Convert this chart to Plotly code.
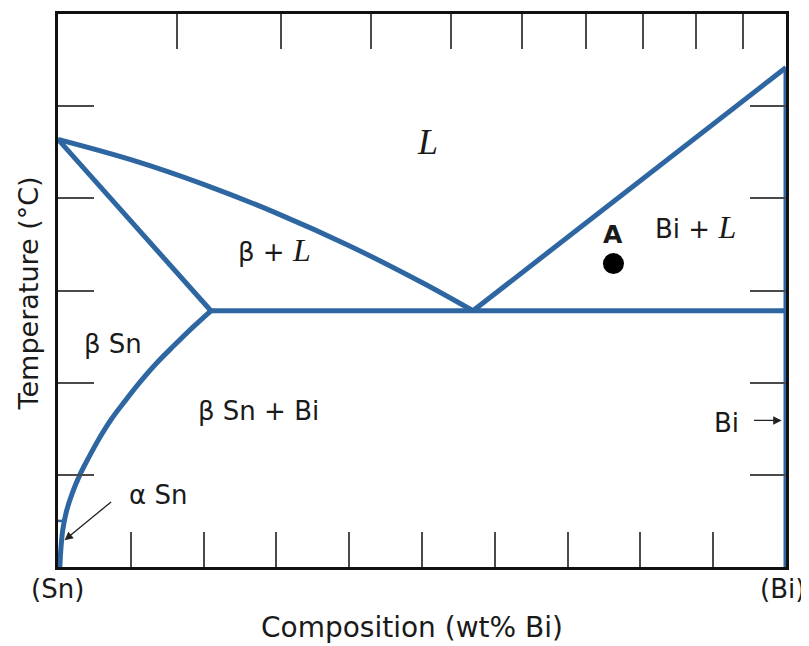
import plotly.graph_objects as go

# ---------------- data (wt% Bi, temperature °C) ----------------
liquidus_sn_x = [0, 10, 20, 30, 40, 50, 57]
liquidus_sn_y = [232, 221, 207.6, 192, 174.3, 154.3, 139]

solidus_sn_x = [0, 21]
solidus_sn_y = [232, 139]

solvus_x = [21, 18.5, 15.9, 13.4, 11.2, 9.2, 7.3, 5.7, 4.3, 3.0, 1.95, 1.15, 0.65, 0.4, 0.25]
solvus_y = [139, 130, 120, 110, 100, 90, 80, 70, 60, 50, 40, 30, 20, 10, 0]

alpha_beta_x = [0, 1.0]
alpha_beta_y = [25, 25]

eutectic_x = [21, 100]
eutectic_y = [139, 139]

liquidus_bi_x = [57, 100]
liquidus_bi_y = [139, 271]

bi_line_x = [100, 100]
bi_line_y = [0, 271]

point_a_x = [76.3]
point_a_y = [164.6]

x_ticks_bottom = [10, 20, 30, 40, 50, 60, 70, 80, 90]
x_ticks_top = [16.4, 30.6, 43.0, 54.0, 63.8, 72.5, 80.4, 87.6, 94.1]   # at% Bi marks
y_ticks = [50, 100, 150, 200, 250]

BLUE = "#2e66a2"
TXT = "#1a1a1a"
SANS = "DejaVu Sans"
SERIF = "Liberation Serif"

fig = go.Figure()

for xs, ys, shp in [
    (liquidus_sn_x, liquidus_sn_y, "spline"),
    (solidus_sn_x, solidus_sn_y, "linear"),
    (solvus_x, solvus_y, "spline"),
    (eutectic_x, eutectic_y, "linear"),
    (liquidus_bi_x, liquidus_bi_y, "linear"),
    (bi_line_x, bi_line_y, "linear"),
]:
    fig.add_trace(go.Scatter(x=xs, y=ys, mode="lines",
                             line=dict(color=BLUE, width=5, shape=shp, smoothing=1.0),
                             showlegend=False, hoverinfo="skip"))

fig.add_trace(go.Scatter(x=alpha_beta_x, y=alpha_beta_y, mode="lines",
                         line=dict(color=BLUE, width=2.5), showlegend=False, hoverinfo="skip"))

fig.add_trace(go.Scatter(x=point_a_x, y=point_a_y, mode="markers",
                         marker=dict(color="black", size=21), showlegend=False, hoverinfo="skip"))

# invisible trace on the top axis so the overlay axis is drawn
fig.add_trace(go.Scatter(x=[0], y=[0], xaxis="x2", mode="markers",
                         marker=dict(opacity=0), showlegend=False, hoverinfo="skip"))

axis_common = dict(showgrid=False, zeroline=False, showticklabels=False,
                   ticks="inside", tickcolor="#4a4a4a", tickwidth=1.6)

fig.update_layout(
    width=801, height=638,
    margin=dict(l=50, r=23, t=3, b=79),
    paper_bgcolor="white", plot_bgcolor="white",
    xaxis=dict(range=[0, 100], tickvals=x_ticks_bottom, ticklen=35,
               showline=True, linecolor="#111", linewidth=2.5, mirror=True,
               **axis_common),
    xaxis2=dict(range=[0, 100], overlaying="x", side="top", tickvals=x_ticks_top,
                ticklen=35, showline=False, **axis_common),
    yaxis=dict(range=[0, 300], tickvals=y_ticks, ticklen=36,
               showline=True, linecolor="#111", linewidth=2.5, mirror="ticks",
               **axis_common),
)

def label(x, y, text, size=26, ref="data", **kw):
    d = dict(x=x, y=y, text=text, showarrow=False, xanchor="center", yanchor="middle",
             font=dict(family=SANS, size=size, color=TXT))
    if ref == "paper":
        d.update(xref="paper", yref="paper")
    else:
        d.update(xref="x", yref="y")
    d.update(kw)
    fig.add_annotation(**d)

Lspan = lambda s: f'<span style="font-family:{SERIF};font-size:{s}px"><i>L</i></span>'

label(50.8, 230.4, Lspan(36))
label(29.8, 172, "β + " + Lspan(32))
label(87.5, 184.6, "Bi + " + Lspan(32))
label(7.6, 121, "β Sn")
label(27.5, 84.7, "β Sn + Bi")
label(13.7, 38.9, "α Sn")
label(91.8, 78.3, "Bi")
label(76.3, 180.5, "<b>A</b>", size=25)

# arrows
fig.add_annotation(x=0.9, y=14.5, ax=7.5, ay=36, xref="x", yref="y", axref="x", ayref="y",
                   text="", showarrow=True, arrowhead=2, arrowsize=1.3, arrowwidth=1.3,
                   arrowcolor="#222")
fig.add_annotation(x=99.4, y=79.5, ax=95.4, ay=79.5, xref="x", yref="y", axref="x", ayref="y",
                   text="", showarrow=True, arrowhead=2, arrowsize=1.3, arrowwidth=1.3,
                   arrowcolor="#222")

# axis end labels and titles
label(-0.001, -0.04, "(Sn)", ref="paper")
label(0.995, -0.04, "(Bi)", ref="paper")
label(0.4856, -0.11, "Composition (wt% Bi)", size=28, ref="paper")
label(-0.041, 0.495, "Temperature (°C)", size=27, ref="paper", textangle=-90)

fig.write_html("out.html")
